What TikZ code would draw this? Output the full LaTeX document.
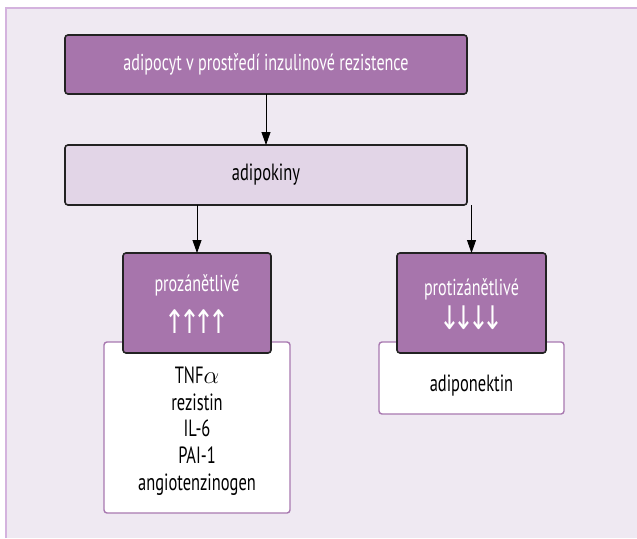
\documentclass[tikz,border=0pt]{standalone}
\usepackage{graphicx}
\usepackage{fontspec}
\setmainfont[FakeStretch=0.70]{PT Sans}
\newfontfamily\arrowfont{DejaVu Sans}
\usetikzlibrary{arrows.meta}
\definecolor{bgc}{HTML}{EFE9F2}
\definecolor{framec}{HTML}{D4B3DE}
\definecolor{darkp}{HTML}{A775AC}
\definecolor{lightp}{HTML}{E2D5E7}
\definecolor{wborder}{HTML}{A878B0}
\definecolor{edge}{HTML}{222222}
\newcommand{\ak}{\kern-6.5pt}
\tikzset{
  darkbox/.style={draw=edge,line width=1.6pt,fill=darkp,rounded corners=3pt},
  lightbox/.style={draw=edge,line width=1.6pt,fill=lightp,rounded corners=3pt},
  whitebox/.style={draw=wborder,line width=1.4pt,fill=white,rounded corners=3pt},
  wtext/.style={text=white,font=\fontsize{23}{27}\selectfont,inner sep=0pt},
  btext/.style={text=black,font=\fontsize{23.5}{26.7}\selectfont,inner sep=0pt,align=center},
  arrtext/.style={text=white,font=\arrowfont\fontsize{25}{28}\selectfont,inner sep=0pt},
  conn/.style={draw=black,line width=0.8pt,-{Triangle[length=13pt,width=9pt]}}
}
\begin{document}
\begin{tikzpicture}[x=1pt,y=-1pt]
\useasboundingbox (0,0) rectangle (637,538);
\fill[white] (0,0) rectangle (637,538);
\fill[bgc] (6,8) rectangle (637,538);
\draw[framec,line width=1.2pt] (6,538) -- (6,8) -- (637,8);
% boxes
\path[darkbox] (65,35) rectangle (467,94);
\node[wtext] (top) at (266,64.5) {adipocyt v prostředí inzulinové rezistence};
\coordinate (topS) at (266,94);
\path[lightbox] (65,145) rectangle (467,205);
\node[btext] (adipo) at (266,175) {adipokiny};
\coordinate (adipoN) at (266,145);
\coordinate (adipoSL) at (197,205);
\coordinate (adipoSR) at (471.5,205);
% white boxes
\path[whitebox] (104,342) rectangle (290,513);
\node[btext] (prolist) at (197,431) {TNF$\alpha$\\rezistin\\IL-6\\PAI-1\\angiotenzinogen};
\path[whitebox] (379,342) rectangle (564,414);
\node[btext] (antilist) at (471.5,386) {adiponektin};
% purple boxes
\path[darkbox] (123,253) rectangle (271,353);
\coordinate (proN) at (197,253);
\node[wtext] (pro) at (197,285) {prozánětlivé};
\node[arrtext] (proarr) at (197,322) {\scalebox{1}[1.3]{↑\ak↑\ak↑\ak↑}};
\path[darkbox] (397,253) rectangle (546,353);
\coordinate (antiN) at (471.5,253);
\node[wtext] (anti) at (471.5,289) {protizánětlivé};
\node[arrtext] (antiarr) at (471.5,318) {\scalebox{1}[1.3]{↓\ak↓\ak↓\ak↓}};
% connectors
\draw[conn] (topS) -- (adipoN);
\draw[conn] (adipoSL) -- (proN);
\draw[conn] (adipoSR) -- (antiN);
\end{tikzpicture}
\end{document}
